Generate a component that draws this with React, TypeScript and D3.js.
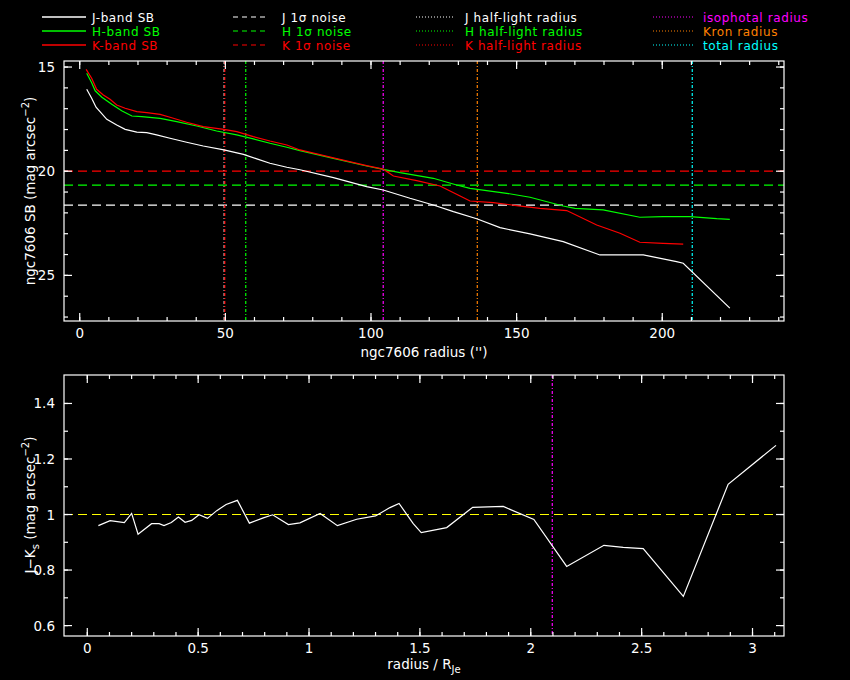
import React from 'react';
import * as d3 from 'd3';

// surface brightness profiles (radius in arcsec, mag arcsec^-2)
const jR = [2.4, 4.1, 5.6, 9.3, 12.7, 15.6, 19.6, 23.0, 26.4, 31.0, 36.7, 42.4, 49.5, 56.2, 60.8, 65.3, 71.1, 75.6, 87.1, 98.5, 104.2, 113.4, 121.4, 128.3, 136.3, 144.3, 154.6, 166.0, 178.6, 193.5, 204.9, 207.2, 223.2];
const jSB = [16.07, 16.5, 16.93, 17.51, 17.78, 17.99, 18.12, 18.15, 18.26, 18.42, 18.61, 18.79, 18.98, 19.19, 19.41, 19.62, 19.81, 19.93, 20.31, 20.74, 20.9, 21.3, 21.62, 21.94, 22.28, 22.71, 23.01, 23.38, 24.02, 24.02, 24.34, 24.42, 26.57];

const hR = [2.4, 4.1, 5.3, 7.6, 11.0, 14.4, 17.9, 21.3, 27.6, 33.3, 40.2, 47.0, 53.9, 59.6, 65.3, 71.1, 75.6, 87.1, 98.5, 104.2, 110.0, 121.4, 129.4, 134.0, 139.7, 146.6, 154.6, 166.0, 170.0, 179.7, 192.3, 200.3, 209.5, 218.7, 223.2];
const hSB = [15.3, 15.75, 16.14, 16.45, 16.79, 17.1, 17.35, 17.38, 17.46, 17.62, 17.83, 18.07, 18.26, 18.45, 18.66, 18.85, 19.01, 19.38, 19.75, 19.91, 20.07, 20.34, 20.66, 20.82, 20.93, 21.06, 21.25, 21.67, 21.78, 21.86, 22.21, 22.18, 22.18, 22.28, 22.31];

const kR = [2.2, 4.1, 5.8, 8.1, 10.4, 12.7, 15.6, 19.6, 23.0, 27.6, 31.0, 36.7, 42.4, 49.5, 53.9, 59.6, 65.3, 71.1, 75.6, 87.1, 98.5, 104.2, 105.4, 107.7, 115.7, 123.7, 130.6, 134.0, 142.0, 150.0, 158.0, 167.2, 177.5, 185.5, 192.3, 200.3, 207.2];
const kSB = [15.11, 15.54, 16.07, 16.34, 16.55, 16.82, 16.98, 17.14, 17.19, 17.27, 17.41, 17.65, 17.86, 17.99, 18.1, 18.34, 18.55, 18.74, 18.98, 19.36, 19.73, 19.9, 20.02, 20.23, 20.45, 20.71, 21.19, 21.43, 21.51, 21.65, 21.78, 21.89, 22.58, 22.98, 23.41, 23.46, 23.5];

// 1 sigma noise levels
const noiseJ = 21.63;
const noiseH = 20.67;
const noiseK = 20.0;

// characteristic radii (arcsec)
const halfJ = 49.6;
const halfH = 57.0;
const halfK = 49.8;
const isoRadius = 104.2;
const kronRadius = 136.5;
const totalRadius = 210.3;

// colour profile J-Ks against radius / R_Je
const colR = [0.05, 0.103, 0.167, 0.2, 0.229, 0.29, 0.324, 0.346, 0.379, 0.411, 0.441, 0.471, 0.504, 0.542, 0.584, 0.626, 0.677, 0.731, 0.794, 0.836, 0.907, 0.959, 1.05, 1.128, 1.215, 1.3, 1.365, 1.406, 1.47, 1.506, 1.621, 1.738, 1.876, 2.014, 2.162, 2.33, 2.417, 2.507, 2.688, 2.89, 3.106];
const colJK = [0.96, 0.978, 0.971, 1.004, 0.929, 0.967, 0.967, 0.96, 0.971, 0.991, 0.972, 0.979, 0.999, 0.986, 1.014, 1.036, 1.051, 0.969, 0.988, 0.999, 0.964, 0.97, 1.004, 0.96, 0.983, 0.995, 1.025, 1.04, 0.967, 0.935, 0.953, 1.026, 1.029, 0.982, 0.813, 0.889, 0.882, 0.877, 0.705, 1.109, 1.249];
const colRef = 1.0;
const isoRadiusNorm = 2.097;

const topXTicks = [0, 50, 100, 150, 200];
const topYTicks = [15, 20, 25];
const botXTicks = [0, 0.5, 1, 1.5, 2, 2.5, 3];
const botYTicks = [0.6, 0.8, 1, 1.2, 1.4];

const FONT = 'DejaVu Sans';
const W = 850, H = 680;
const L = 64, R = 784;

const legendCols = [
  { x: 42, len: 44, gap: 6, dash: undefined, rows: [['J-band SB', '#fff'], ['H-band SB', '#0f0'], ['K-band SB', '#f00']] },
  { x: 233, len: 36, gap: 13, dash: '5 4', rows: [['J 1σ noise', '#fff'], ['H 1σ noise', '#0f0'], ['K 1σ noise', '#f00']] },
  { x: 416, len: 39, gap: 10, dash: '1 2', rows: [['J half-light radius', '#fff'], ['H half-light radius', '#0f0'], ['K half-light radius', '#f00']] },
  { x: 653, len: 40, gap: 10, dash: '1 2', rows: [['isophotal radius', '#f0f'], ['Kron radius', '#ff8000'], ['total radius', '#0ff']] },
];

function Frame({ x, y, xMajor, yMajor, xMinor, yMinor, fmtX, fmtY }) {
  const [x0, x1] = x.range();
  const yTop = Math.min(...y.range());
  const yBot = Math.max(...y.range());
  const els = [];
  const tick = (key, pos, len, horiz) => {
    if (horiz) {
      els.push(<line key={key + 'a'} x1={x0} x2={x0 + len} y1={pos} y2={pos} />);
      els.push(<line key={key + 'b'} x1={x1} x2={x1 - len} y1={pos} y2={pos} />);
    } else {
      els.push(<line key={key + 'a'} x1={pos} x2={pos} y1={yBot} y2={yBot - len} />);
      els.push(<line key={key + 'b'} x1={pos} x2={pos} y1={yTop} y2={yTop + len} />);
    }
  };
  xMinor.forEach((v, i) => tick('xm' + i, x(v), 4, false));
  xMajor.forEach((v, i) => tick('xM' + i, x(v), 8, false));
  yMinor.forEach((v, i) => tick('ym' + i, y(v), 4, true));
  yMajor.forEach((v, i) => tick('yM' + i, y(v), 8, true));
  return (
    <g>
      <g stroke="#fff" strokeWidth={1.2}>
        <rect x={x0} y={yTop} width={x1 - x0} height={yBot - yTop} fill="none" />
        {els}
      </g>
      <g fill="#fff" fontFamily={FONT} fontSize={13.5}>
        {xMajor.map(v => (
          <text key={'tx' + v} x={x(v)} y={yBot + 17} textAnchor="middle">{fmtX(v)}</text>
        ))}
        {yMajor.map(v => (
          <text key={'ty' + v} x={x0 - 9} y={y(v) + 5} textAnchor="end">{fmtY(v)}</text>
        ))}
      </g>
    </g>
  );
}

export default function App() {
  // top panel: surface brightness
  const x1 = d3.scaleLinear().domain([-5.4, 241.8]).range([L, R]);
  const y1 = d3.scaleLinear().domain([14.71, 27.19]).range([61, 321]);
  const sbLine = d3.line<[number, number]>().x(d => x1(d[0])).y(d => y1(d[1]));
  const jPts = jR.map((r, i) => [r, jSB[i]] as [number, number]);
  const hPts = hR.map((r, i) => [r, hSB[i]] as [number, number]);
  const kPts = kR.map((r, i) => [r, kSB[i]] as [number, number]);

  // bottom panel: colour
  const x2 = d3.scaleLinear().domain([-0.105, 3.142]).range([L, R]);
  const y2 = d3.scaleLinear().domain([0.5625, 1.5025]).range([636, 375]);
  const colLine = d3.line<[number, number]>().x(d => x2(d[0])).y(d => y2(d[1]));
  const colPts = colR.map((r, i) => [r, colJK[i]] as [number, number]);

  const vLines = [
    [halfJ, '#fff'], [halfK, '#f00'], [halfH, '#0f0'],
    [isoRadius, '#f0f'], [kronRadius, '#ff8000'], [totalRadius, '#0ff'],
  ] as [number, string][];
  const hLines = [[noiseK, '#f00'], [noiseH, '#0f0'], [noiseJ, '#fff']] as [number, string][];

  return (
    <div style={{ position: 'absolute', left: 0, top: 0, width: W, height: H, background: '#000' }}>
      <svg width={W} height={H} style={{ display: 'block', background: '#000' }}>
        {/* legend */}
        <g fontFamily={FONT} fontSize={12} letterSpacing={0.6}>
          {legendCols.map((c, ci) =>
            c.rows.map(([label, col], ri) => {
              const yy = 17 + ri * 14;
              const lineEnd = c.x + c.len;
              return (
                <g key={ci + '-' + ri}>
                  <line x1={c.x} x2={lineEnd} y1={yy} y2={yy} stroke={col} strokeWidth={ci === 0 ? 1.5 : 1.2} strokeDasharray={c.dash} />
                  <text x={lineEnd + c.gap} y={yy + 4.5} fill={col}>{label}</text>
                </g>
              );
            })
          )}
        </g>

        {/* top panel */}
        <g>
          {hLines.map(([v, col], i) => (
            <line key={'h' + i} x1={L} x2={R} y1={y1(v)} y2={y1(v)} stroke={col} strokeWidth={1.2} strokeDasharray="9 5" />
          ))}
          {vLines.map(([v, col], i) => (
            <line key={'v' + i} x1={x1(v)} x2={x1(v)} y1={61} y2={321} stroke={col} strokeWidth={1.2} strokeDasharray="3 2 1 2" />
          ))}
          <path d={sbLine(jPts) ?? ''} fill="none" stroke="#fff" strokeWidth={1.2} />
          <path d={sbLine(hPts) ?? ''} fill="none" stroke="#0f0" strokeWidth={1.2} />
          <path d={sbLine(kPts) ?? ''} fill="none" stroke="#f00" strokeWidth={1.2} />
          <Frame
            x={x1} y={y1}
            xMajor={topXTicks} yMajor={topYTicks}
            xMinor={d3.range(0, 241, 10)} yMinor={d3.range(15, 27.5, 1)}
            fmtX={v => String(v)} fmtY={v => String(v)}
          />
          <text x={424} y={357} fill="#fff" fontFamily={FONT} fontSize={13.5} textAnchor="middle">ngc7606 radius ('')</text>
          <text transform="translate(35,191) rotate(-90)" fill="#fff" fontFamily={FONT} fontSize={13.5} textAnchor="middle">
            ngc7606 SB (mag arcsec<tspan dy={-6} fontSize={10}>−2</tspan><tspan dy={6}>)</tspan>
          </text>
        </g>

        {/* bottom panel */}
        <g>
          <line x1={L} x2={R} y1={y2(colRef)} y2={y2(colRef)} stroke="#ff0" strokeWidth={1.2} strokeDasharray="9 5" />
          <line x1={x2(isoRadiusNorm)} x2={x2(isoRadiusNorm)} y1={375} y2={636} stroke="#f0f" strokeWidth={1.2} strokeDasharray="3 2 1 2" />
          <path d={colLine(colPts) ?? ''} fill="none" stroke="#fff" strokeWidth={1.2} />
          <Frame
            x={x2} y={y2}
            xMajor={botXTicks} yMajor={botYTicks}
            xMinor={d3.range(0, 3.15, 0.1)} yMinor={d3.range(0.6, 1.5, 0.1)}
            fmtX={v => String(v)} fmtY={v => String(v)}
          />
          <text x={424} y={669} fill="#fff" fontFamily={FONT} fontSize={13.5} textAnchor="middle">
            radius / R<tspan dy={4} fontSize={10}>Je</tspan>
          </text>
          <text transform="translate(35,505) rotate(-90)" fill="#fff" fontFamily={FONT} fontSize={13.5} textAnchor="middle">
            J−K<tspan dy={4} fontSize={10}>s</tspan><tspan dy={-4}> (mag arcsec</tspan><tspan dy={-6} fontSize={10}>−2</tspan><tspan dy={6}>)</tspan>
          </text>
        </g>
      </svg>
    </div>
  );
}
